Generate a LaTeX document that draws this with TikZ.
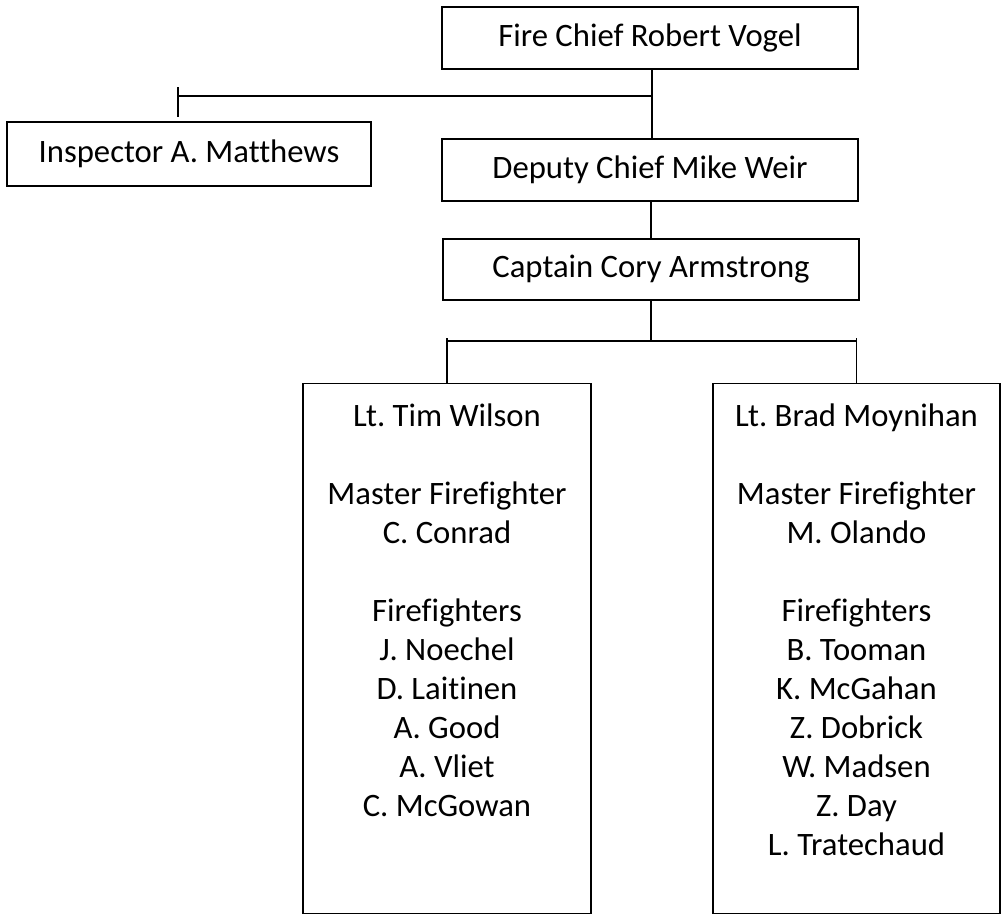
\documentclass[tikz,border=0pt]{standalone}
\usepackage{fontspec}
\setmainfont{Carlito}[Ligatures=NoCommon]
\usetikzlibrary{positioning}
\frenchspacing

\tikzset{
    post/.style={draw, line width=0.8pt, inner sep=0pt, minimum height=1.24cm},
    crew/.style={draw, line width=0.8pt, inner sep=0pt, minimum width=5.76cm, minimum height=10.6cm},
    roster/.style={align=center, inner sep=0pt},
}

\begin{document}
\begin{tikzpicture}[x=0.02cm, y=-0.02cm, font=\fontsize{18.6}{22.2}\selectfont]
    \useasboundingbox (0,0) rectangle (1002,916);
    % chain of command
    \node[post, minimum width=8.32cm] (chief)   at (650,38)    {Fire Chief Robert Vogel};
    \node[post, minimum width=8.32cm] (deputy)  at (650,170)   {Deputy Chief Mike Weir};
    \node[post, minimum width=8.32cm, minimum height=1.22cm] (captain) at (651,269.5) {Captain Cory Armstrong};
    \node[post, minimum width=7.28cm, minimum height=1.28cm] (inspector) at (189,154) {Inspector A. Matthews};

    % the two crews
    \node[crew] (wilson)   at (447,648.5) {};
    \node[crew, minimum width=5.74cm] (moynihan) at (856.5,648.5) {};
    \node[roster, below=0.42cm of wilson.north] (wilsonlist) {Lt. Tim Wilson\\[22.2pt]
        Master Firefighter\\ C. Conrad\\[22.2pt]
        Firefighters\\ J. Noechel\\ D. Laitinen\\ A. Good\\ A. Vliet\\ C. McGowan};
    \node[roster, below=0.42cm of moynihan.north] (moynihanlist) {Lt. Brad Moynihan\\[22.2pt]
        Master Firefighter\\ M. Olando\\[22.2pt]
        Firefighters\\ B. Tooman\\ K. McGahan\\ Z. Dobrick\\ W. Madsen\\ Z. Day\\ L. Tratechaud};

    \begin{scope}[line width=0.8pt]
    \coordinate (branch) at (652,96);
    \coordinate (tick)   at (178,87);
    \coordinate (bus)    at (651,341);
    \draw ([xshift=0.04cm]chief.south) -- ([xshift=0.04cm]deputy.north);
    \draw (branch) -- (branch -| tick);
    \draw (tick) -- ++(0,30);
    \draw (deputy.south) -- (captain.south |- deputy.south) -- (captain.north);
    \draw (captain.south) -- (bus);
    \draw (wilson.north |- bus) -- (moynihan.north |- bus);
    \draw (wilson.north |- 0,338) -- (wilson.north);
    \draw (moynihan.north |- 0,338) -- (moynihan.north);
    \end{scope}
\end{tikzpicture}
\end{document}
